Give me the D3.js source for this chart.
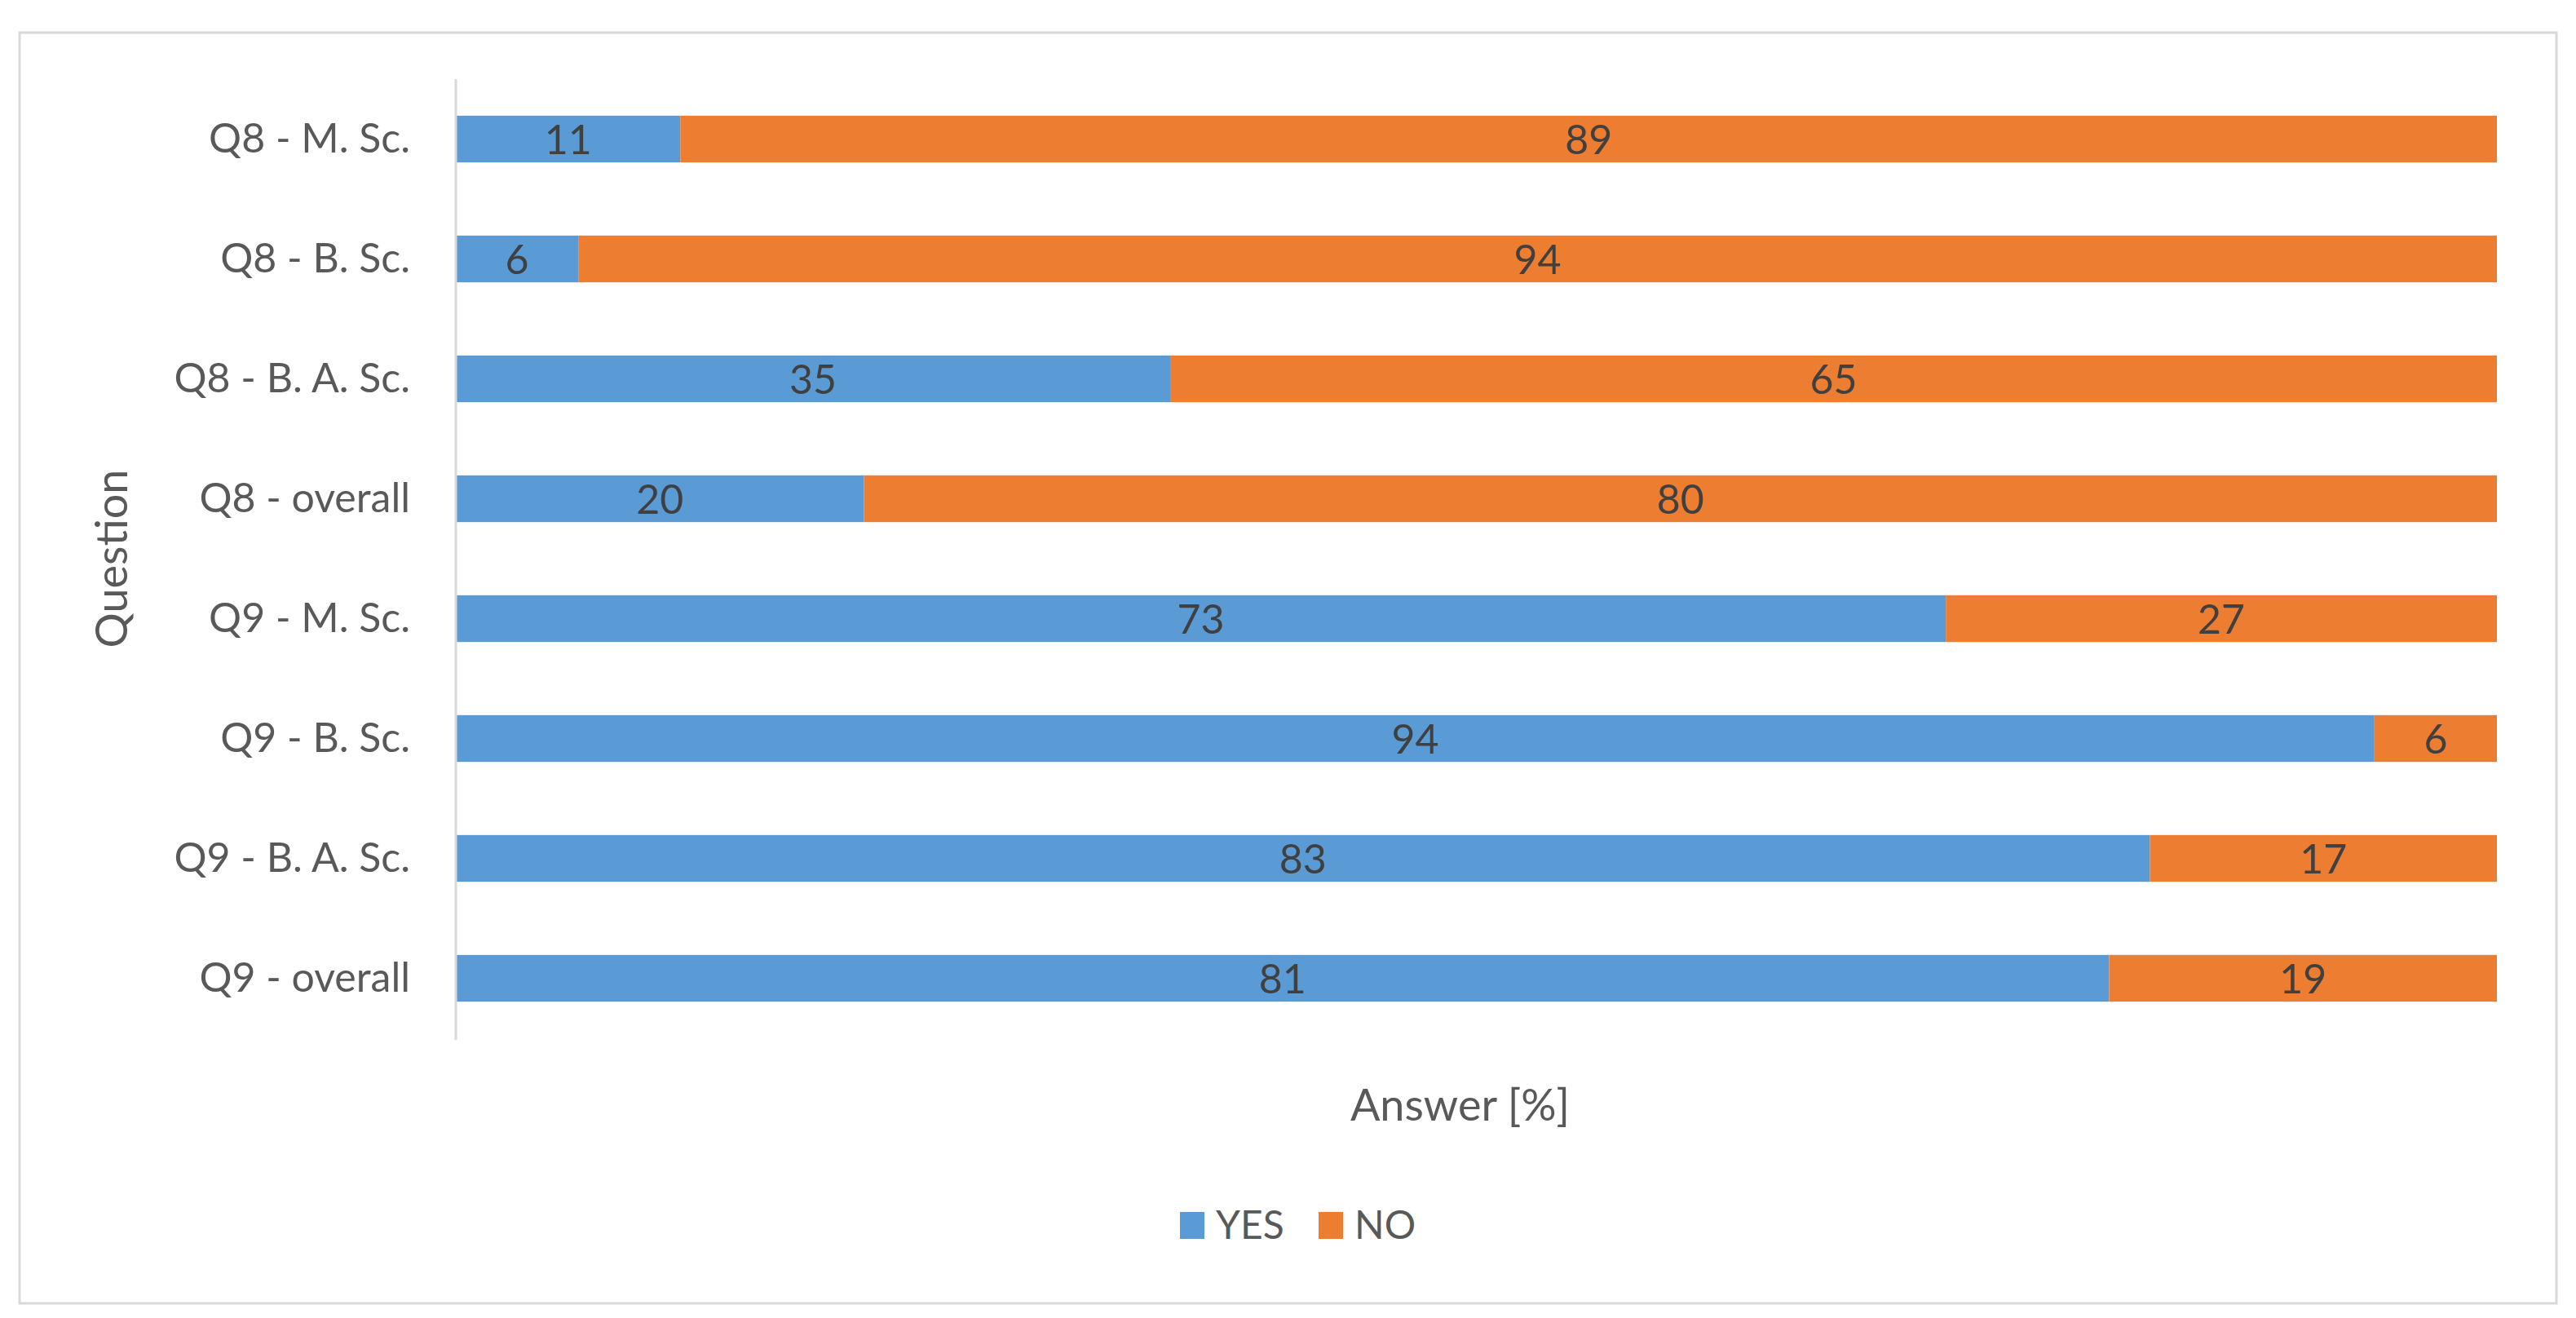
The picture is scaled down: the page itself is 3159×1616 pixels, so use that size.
<!DOCTYPE html>
<html>
<head>
<meta charset="utf-8">
<script src="https://cdn.jsdelivr.net/npm/d3@7"></script>
<style>
  body { margin: 0; background: #fff; }
  text { font-family: Lato, "Open Sans", sans-serif; }
</style>
</head>
<body>
<div id="chart"></div>
<script>
// data, top to bottom
var questions = ["Q8 - M. Sc.", "Q8 - B. Sc.", "Q8 - B. A. Sc.", "Q8 - overall",
                 "Q9 - M. Sc.", "Q9 - B. Sc.", "Q9 - B. A. Sc.", "Q9 - overall"];
var yesValues = [11, 6, 35, 20, 73, 94, 83, 81];
var noValues  = [89, 94, 65, 80, 27, 6, 17, 19];
var seriesNames = ["YES", "NO"];
var seriesColors = ["#5B9BD5", "#ED7D31"];

var W = 3159, H = 1616;
var plotLeft = 559, plotRight = 3062, plotTop = 97, plotBottom = 1273;

var svg = d3.select("#chart").append("svg")
    .attr("width", W)
    .attr("height", H);

svg.append("rect")
    .attr("x", 24).attr("y", 40)
    .attr("width", 3111).attr("height", 1558)
    .attr("fill", "#fff")
    .attr("stroke", "#d9d9d9")
    .attr("stroke-width", 3);

var x = d3.scaleLinear().domain([0, 100]).range([plotLeft, plotRight]);
var y = d3.scaleBand().domain(questions).range([plotTop, plotBottom]).paddingInner(0.61).paddingOuter(0.305);

var rows = questions.map(function(q, i) { return { q: q, YES: yesValues[i], NO: noValues[i] }; });
var stack = d3.stack().keys(seriesNames)(rows);

var g = svg.append("g");
stack.forEach(function(layer, k) {
    g.selectAll(".bar" + k)
        .data(layer)
        .enter().append("rect")
        .attr("x", function(d) { return x(d[0]); })
        .attr("width", function(d) { return x(d[1]) - x(d[0]); })
        .attr("y", function(d) { return y(d.data.q); })
        .attr("height", y.bandwidth())
        .attr("fill", seriesColors[k]);

    g.selectAll(".lab" + k)
        .data(layer)
        .enter().append("text")
        .attr("x", function(d) { return (x(d[0]) + x(d[1])) / 2; })
        .attr("y", function(d) { return y(d.data.q) + y.bandwidth() / 2; })
        .attr("dy", "0.36em")
        .attr("text-anchor", "middle")
        .attr("font-size", 50)
        .attr("fill", "#404040")
        .text(function(d) { return d[1] - d[0]; });
});

// y axis
var yAxis = svg.append("g")
    .attr("transform", "translate(" + plotLeft + ",0)")
    .call(d3.axisLeft(y).tickSize(0).tickPadding(56));
yAxis.select(".domain").attr("stroke", "#d9d9d9").attr("stroke-width", 3)
    .attr("d", "M0," + plotTop + "V" + (plotBottom + 2));
yAxis.selectAll("text").attr("font-size", 50).attr("fill", "#595959")
    .style("font-family", "Lato, 'Open Sans', sans-serif");

svg.append("text")
    .attr("transform", "translate(156," + ((plotTop + plotBottom) / 2) + ") rotate(-90)")
    .attr("text-anchor", "middle")
    .attr("font-size", 54)
    .attr("fill", "#595959")
    .text("Question");

svg.append("text")
    .attr("x", (plotLeft + plotRight) / 2 - 20)
    .attr("y", 1374)
    .attr("text-anchor", "middle")
    .attr("font-size", 54)
    .attr("fill", "#595959")
    .text("Answer [%]");

// legend
var legendX = [1447, 1617];
seriesNames.forEach(function(name, k) {
    svg.append("rect")
        .attr("x", legendX[k]).attr("y", 1486)
        .attr("width", 30).attr("height", 33)
        .attr("fill", seriesColors[k]);
    svg.append("text")
        .attr("x", legendX[k] + 44).attr("y", 1502)
        .attr("dy", "0.36em")
        .attr("font-size", 48)
        .attr("fill", "#595959")
        .text(name);
});
</script>
</body>
</html>
